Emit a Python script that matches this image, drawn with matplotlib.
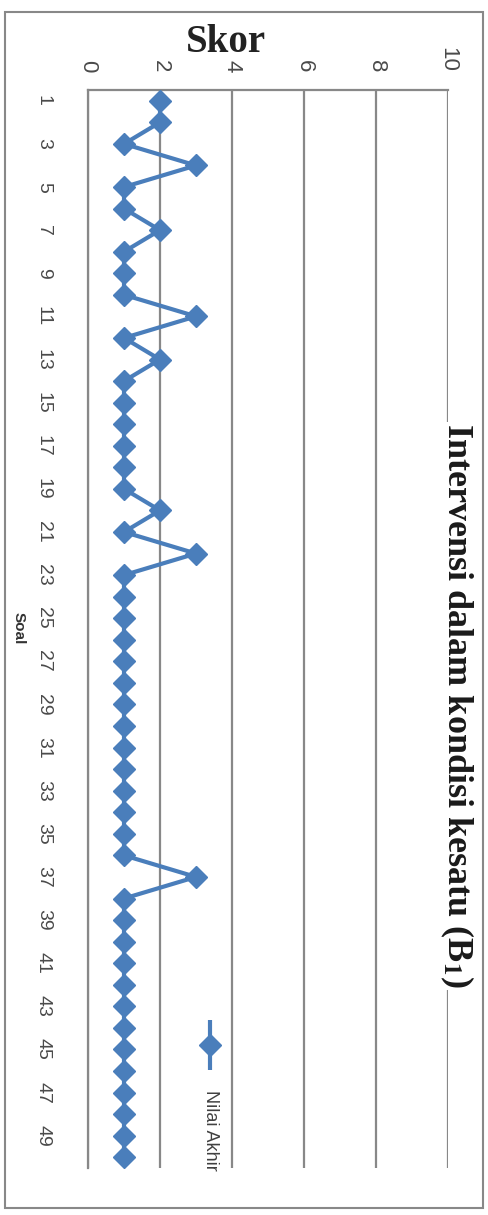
import matplotlib.pyplot as plt
from matplotlib.lines import Line2D
from matplotlib.patches import Rectangle

plt.rcParams['mathtext.fontset'] = 'stix'

# Data: score per question (Soal 1..50)
soal = list(range(1, 51))
nilai_akhir = [2, 2, 1, 3, 1, 1, 2, 1, 1, 1,
               3, 1, 2, 1, 1, 1, 1, 1, 1, 2,
               1, 3, 1, 1, 1, 1, 1, 1, 1, 1,
               1, 1, 1, 1, 1, 1, 3, 1, 1, 1,
               1, 1, 1, 1, 1, 1, 1, 1, 1, 1]
skor_ticks = [0, 2, 4, 6, 8, 10]
soal_ticks = list(range(1, 50, 2))

line_color = '#4a7ebb'
grid_color = '#888888'
label_color = '#4a4a4a'

fig = plt.figure(figsize=(4.88, 12.15), dpi=100)
W, H = 488, 1215

# outer chart frame
fig.add_artist(Rectangle((5 / W, 1 - 1208 / H), 478 / W, 1196 / H,
                         transform=fig.transFigure, fill=False,
                         edgecolor=grid_color, lw=1.5))

# chart is shown rotated 90 degrees clockwise: value axis runs left-right
ax = fig.add_axes([88 / W, 47 / H, 360 / W, 1078 / H])
ax.plot(nilai_akhir, soal, color=line_color, lw=3, marker='D',
        markersize=11, markeredgecolor=line_color, zorder=3)

ax.set_xlim(0, 10)
ax.set_ylim(50.5, 0.5)
ax.set_xticks(skor_ticks)
ax.set_yticks(soal_ticks)
ax.xaxis.tick_top()
ax.tick_params(axis='x', length=0, pad=13, labelsize=16, labelcolor=label_color)
ax.tick_params(axis='y', length=0, pad=26, labelsize=14, labelcolor=label_color)
for t in ax.get_xticklabels():
    t.set_rotation(-90)
    t.set_fontfamily('Liberation Sans')
for t in ax.get_yticklabels():
    t.set_rotation(-90)
    t.set_va('center')
    t.set_fontfamily('Liberation Sans')

ax.grid(axis='x', color=grid_color, lw=1.6)
ax.set_axisbelow(True)
for side in ['right', 'bottom']:
    ax.spines[side].set_visible(False)
for side in ['left', 'top']:
    ax.spines[side].set_color(grid_color)
    ax.spines[side].set_linewidth(1.6)

# title (rotated, covering the top gridline)
fig.text(457 / W, 1 - 706 / H, r'Intervensi dalam kondisi kesatu (B$_\mathbf{1}$)',
         rotation=-90, ha='center', va='center', fontsize=26,
         fontfamily='Liberation Serif', fontweight='bold', color='#1a1a1a',
         bbox=dict(facecolor='white', edgecolor='none', pad=1), zorder=5)

# axis titles
fig.text(226 / W, 1 - 42 / H, 'Skor', ha='center', va='center', fontsize=28,
         fontfamily='Liberation Serif', fontweight='bold', color='#222222')
fig.text(19 / W, 1 - 628 / H, 'Soal', rotation=-90, ha='center', va='center',
         fontsize=11, fontfamily='Liberation Sans', fontweight='bold',
         color='#333333')

# legend
fig.add_artist(Line2D([210 / W, 210 / W], [1 - 1020 / H, 1 - 1070 / H],
                      transform=fig.transFigure, color=line_color, lw=3,
                      solid_capstyle='butt'))
fig.add_artist(Line2D([210 / W], [1 - 1045 / H], transform=fig.transFigure,
                      color=line_color, marker='D', markersize=11, lw=0))
fig.text(211 / W, 1 - 1130 / H, 'Nilai Akhir', rotation=-90, ha='center',
         va='center', fontsize=13, fontfamily='Liberation Sans',
         color='#404040')

fig.savefig('out.png', dpi=100)
